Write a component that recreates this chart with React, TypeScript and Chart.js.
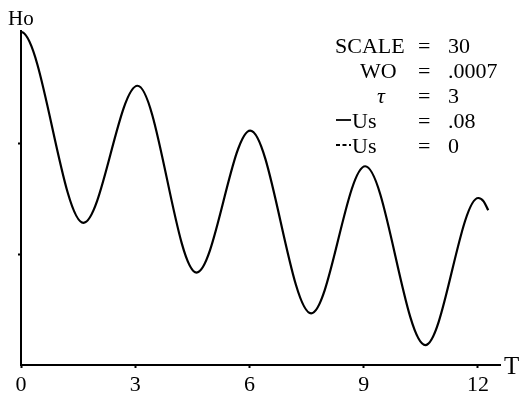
import { useEffect, useRef } from "react";
import { Chart, registerables } from "chart.js";

Chart.register(...registerables);

// T (time) values and Ho response (turning points)
const T_VALUES = [
  0, 0.04, 1.64, 3.06, 4.61, 6.02, 7.62, 9.04, 10.62, 12.01, 12.15, 12.27,
];
const HO_VALUES = [
  3.01, 3.008, 1.285, 2.525, 0.836, 2.12, 0.467, 1.797, 0.18, 1.51, 1.48, 1.4,
];
const X_TICKS = [0, 3, 6, 9, 12];
const Y_TICKS = [1, 2];
const X_MAX = 12.58;
const Y_MAX = 3.02;

const LEGEND_NAMES = ["SCALE", "WO", "τ", "Us", "Us"];
const LEGEND_VALUES = ["30", ".0007", "3", ".08", "0"];
const LEGEND_SAMPLE = ["", "", "", "solid", "dashed"];

const SERIF = '"Liberation Serif", "DejaVu Serif", serif';

const textPlugin = {
  id: "textPlugin",
  afterDraw(chart: any) {
    const ctx = chart.ctx as CanvasRenderingContext2D;
    const xs = chart.scales.x;
    const ys = chart.scales.y;
    ctx.save();
    ctx.fillStyle = "#000";
    ctx.strokeStyle = "#000";
    ctx.textBaseline = "alphabetic";
    // axis titles
    ctx.font = `21px ${SERIF}`;
    ctx.textAlign = "left";
    ctx.fillText("Ho", 8, 25);
    ctx.font = `25px ${SERIF}`;
    ctx.textBaseline = "middle";
    ctx.fillText("T", xs.right + 4, ys.bottom + 2);
    ctx.textBaseline = "alphabetic";
    // legend block
    const nameX = [335, 360, 377, 352, 352];
    LEGEND_NAMES.forEach((name, i) => {
      const base = 53 + i * 25;
      ctx.font = name === "τ" ? `italic 22px ${SERIF}` : `22px ${SERIF}`;
      ctx.fillText(name, nameX[i], base);
      ctx.font = `22px ${SERIF}`;
      ctx.fillText("=", 418, base);
      ctx.fillText(LEGEND_VALUES[i], 448, base);
      if (LEGEND_SAMPLE[i]) {
        ctx.lineWidth = 1.8;
        ctx.setLineDash(LEGEND_SAMPLE[i] === "dashed" ? [4, 2.5] : []);
        ctx.beginPath();
        ctx.moveTo(336, base - 8);
        ctx.lineTo(351, base - 8);
        ctx.stroke();
        ctx.setLineDash([]);
      }
    });
    ctx.restore();
  },
};

export default function App() {
  const ref = useRef<HTMLCanvasElement | null>(null);
  useEffect(() => {
    document.body.style.margin = "0";
    const canvas = ref.current;
    if (!canvas) return;
    const chart = new Chart(canvas, {
      type: "line",
      data: {
        datasets: [
          {
            data: T_VALUES.map((t, i) => ({ x: t, y: HO_VALUES[i] })),
            borderColor: "#000",
            borderWidth: 2.2,
            pointRadius: 0,
            cubicInterpolationMode: "monotone",
            fill: false,
            clip: false as any,
          },
        ],
      },
      options: {
        animation: false,
        responsive: false,
        layout: { padding: { left: 0, top: 31, right: 21, bottom: 0 } },
        plugins: { legend: { display: false }, tooltip: { enabled: false } },
        scales: {
          x: {
            type: "linear",
            min: 0,
            max: X_MAX,
            afterBuildTicks: (s: any) => {
              s.ticks = X_TICKS.map((v) => ({ value: v }));
            },
            afterFit: (s: any) => {
              s.height = 31;
            },
            border: { display: true, color: "#000", width: 2 },
            grid: {
              drawOnChartArea: false,
              drawTicks: true,
              tickLength: 3,
              tickWidth: 2,
              tickColor: "#000",
            },
            ticks: {
              color: "#000",
              padding: 4,
              maxRotation: 0,
              font: { family: SERIF, size: 22 },
            },
          },
          y: {
            type: "linear",
            min: 0,
            max: Y_MAX,
            afterBuildTicks: (s: any) => {
              s.ticks = Y_TICKS.map((v) => ({ value: v }));
            },
            afterFit: (s: any) => {
              s.width = 21;
            },
            border: { display: true, color: "#000", width: 2 },
            grid: {
              drawOnChartArea: false,
              drawTicks: true,
              tickLength: 3,
              tickWidth: 2,
              tickColor: "#000",
            },
            ticks: { display: false },
          },
        },
      },
      plugins: [textPlugin],
    });
    return () => chart.destroy();
  }, []);
  return (
    <div style={{ width: 521, height: 396, background: "#fff" }}>
      <canvas ref={ref} width={521} height={396} />
    </div>
  );
}
